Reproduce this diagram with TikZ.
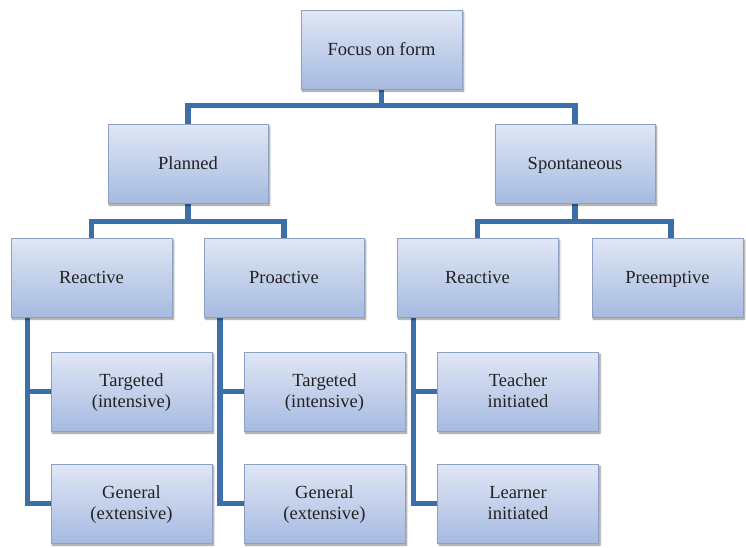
\documentclass[tikz,border=0pt]{standalone}
\usepackage{fontspec}
\setmainfont{Liberation Serif}
\usetikzlibrary{shadows.blur,backgrounds}
\definecolor{boxtop}{RGB}{224,231,245}
\definecolor{boxbot}{RGB}{166,186,224}
\definecolor{boxline}{RGB}{140,160,196}
\definecolor{linkcol}{RGB}{60,110,168}
\definecolor{txtcol}{RGB}{34,34,34}
\tikzset{
  box/.style={draw=boxline, line width=0.7pt, top color=boxtop, bottom color=boxbot,
    minimum width=161pt, minimum height=79pt, inner sep=0pt, align=center,
    text=txtcol, font=\fontsize{18.5}{21}\selectfont,
    text height=13pt, text depth=2pt,
    blur shadow={shadow xshift=1.5pt, shadow yshift=-2pt, shadow blur steps=6, shadow opacity=45}},
  twoline/.style={text height=34pt, text depth=1.6pt},
  conn/.style={draw=linkcol, line width=5.5pt, line join=miter}
}
\begin{document}
\begin{tikzpicture}[x=1pt,y=-1pt]
\useasboundingbox (0,0) rectangle (746,547);
\path (381.5,49.5) coordinate (cf) (188,163.5) coordinate (cp) (575,163.5) coordinate (cs);
\coordinate (bus1) at (381.5,105.5);
\coordinate (busL) at (188,221.5);
\coordinate (busR) at (575,221.5);

% boxes
\node[box] (focus) at (cf) {Focus on form};
\node[box, minimum width=160pt] (planned) at (cp) {Planned};
\node[box, minimum width=160pt] (spont) at (cs) {Spontaneous};
\node[box] (rl) at (91.5,277.5) {Reactive};
\node[box, minimum width=160pt] (pro) at (284,277.5) {Proactive};
\node[box] (rr) at (477.5,277.5) {Reactive};
\node[box, minimum width=151pt] (pre) at (667.5,277.5) {Preemptive};
\node[box, twoline] (tL) at (131.5,391.5) {Targeted\\(intensive)};
\node[box, twoline] (gL) at (131.5,503.5) {General\\(extensive)};
\node[box, twoline] (tP) at (324.5,391.5) {Targeted\\(intensive)};
\node[box, twoline] (gP) at (324.5,503.5) {General\\(extensive)};
\node[box, twoline] (tR) at (518,391.5) {Teacher\\initiated};
\node[box, twoline] (lR) at (518,503.5) {Learner\\initiated};

% tree links, drawn behind the boxes
\begin{pgfonlayer}{background}
\draw[conn] (focus.south) -- (focus.south |- bus1);
\draw[conn] (planned.north) -- (planned.north |- bus1) -- (spont.north |- bus1) -- (spont.north);
\draw[conn] (planned.south) -- (planned.south |- busL);
\draw[conn] (rl.north) -- (rl.north |- busL) -- (pro.north |- busL) -- (pro.north);
\draw[conn] (spont.south) -- (spont.south |- busR);
\coordinate (pretop) at ([xshift=3.5pt]pre.north);
\draw[conn] (rr.north) -- (rr.north |- busR) -- (pretop |- busR) -- (pretop);
\coordinate (rlx) at ([xshift=17pt]rl.south west);
\coordinate (prox) at ([xshift=16.5pt]pro.south west);
\coordinate (rrx) at ([xshift=17pt]rr.south west);
\draw[conn] (rlx) |- (gL.west);
\draw[conn] (tL.west) -- (tL.west -| rlx);
\draw[conn] (prox) |- (gP.west);
\draw[conn] (tP.west) -- (tP.west -| prox);
\draw[conn] (rrx) |- (lR.west);
\draw[conn] (tR.west) -- (tR.west -| rrx);
\end{pgfonlayer}
\end{tikzpicture}
\end{document}
